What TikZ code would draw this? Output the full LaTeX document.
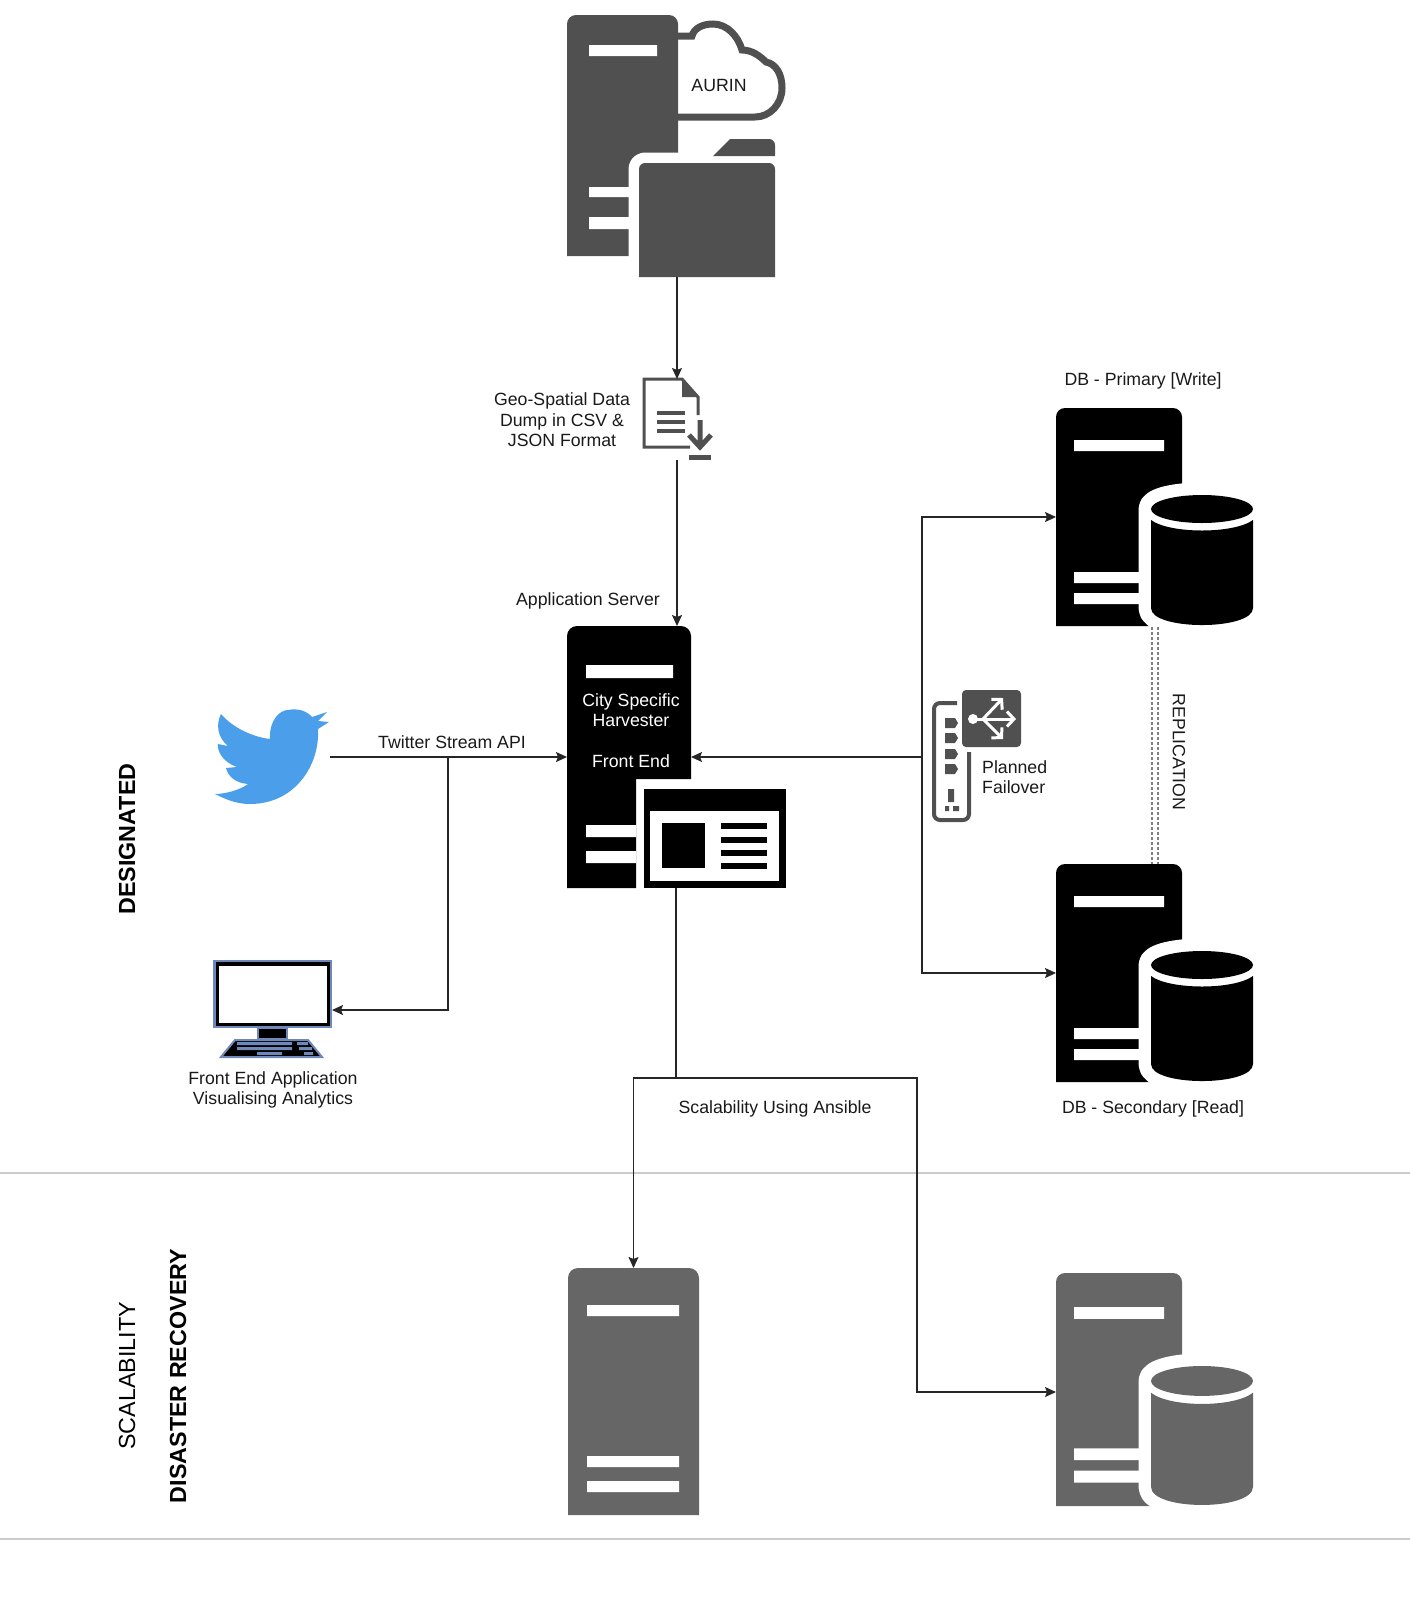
\documentclass[tikz,border=0pt]{standalone}
\usepackage{fontspec}
\setmainfont{Liberation Sans}
\usetikzlibrary{arrows.meta}
\definecolor{auringrey}{HTML}{505050}
\definecolor{drgrey}{HTML}{666666}
\definecolor{birdblue}{HTML}{4A9EEA}
\definecolor{screenblue}{HTML}{6F88BA}
\tikzset{
  iconbox/.style={inner sep=0, outer sep=0, minimum width=#1},
  txt/.style={font=\fontsize{17.7}{20.5}\selectfont, align=center, inner sep=0, text=black!90},
  side/.style={font=\fontsize{23.3}{26}\selectfont, inner sep=0, rotate=90},
  link/.style={line width=1.4pt, ->, black!85},
  rule/.style={line width=1.3pt, black!20}
}
\newcommand{\dbicon}[4]{
  \node (#1) at (1119,{#3+#4/2}) [iconbox=126, minimum height=#4] {};
  \begin{scope}[shift={(0,#3)}, yscale=#4/218]
    \fill[#2] (1056,218) [rounded corners=9] -- (1056,0) -- (1182,0) [sharp corners] -- (1182,218) -- cycle;
    \fill[white] (1074,32) rectangle (1164,43) (1074,164) rectangle (1150,175) (1074,185) rectangle (1150,196);
    \filldraw[white, line width=25, line join=round] (1151,101) .. controls (1151,82.3) and (1253,82.3) .. (1253,101) -- (1253,200) .. controls (1253,222.7) and (1151,222.7) .. (1151,200) -- cycle;
    \fill[#2] (1202,101) ellipse [x radius=51, y radius=14];
    \fill[#2] (1151,112) .. controls (1170,126) and (1234,126) .. (1253,112) -- (1253,200) .. controls (1253,222.7) and (1151,222.7) .. (1151,200) -- cycle;
  \end{scope}
}
\begin{document}
\begin{tikzpicture}
[x=1pt, y=-1pt, >={Stealth[length=11pt,width=10pt,inset=2pt]}]
\useasboundingbox (0,0) rectangle (1410,1604);

\draw[rule] (0,1173) -- (1410,1173);
\draw[rule] (0,1539) -- (1410,1539);

\node (aurinserver) at (622.5,135.5) [iconbox=111, minimum height=241] {};
\fill[auringrey] (aurinserver.south west) [rounded corners=9] -- (aurinserver.north west) -- (aurinserver.north east) [sharp corners] -- (aurinserver.south east) -- cycle;
\fill[white] (589,45) rectangle (657,56) (589,187) rectangle (635,197) (589,217) rectangle (635,229);
\draw[auringrey, line width=7] (678,36) -- (692,36) .. controls (694,28) and (703,24) .. (713,24) .. controls (727,24) and (738,36) .. (742,50) .. controls (752,50) and (760,56) .. (766,62) .. controls (776,64) and (782,74) .. (782,88) .. controls (782,104) and (770,117) .. (755,117) -- (678,117);
\node (aurinlabel) at (719,85) [txt] {AURIN};
\node (aurinfolder) at (707,220) [iconbox=136, minimum height=114] {};
\filldraw[white, line width=21, line join=round] (639,277) [rounded corners=6] -- (639,163) -- (700,163) [sharp corners] -- (700,277) -- cycle;
\fill[auringrey] (aurinfolder.south west) [rounded corners=6] -- (aurinfolder.north west) -- (aurinfolder.north east) [sharp corners] -- (aurinfolder.south east) -- cycle;
\fill[auringrey] (713,156) -- (730,139) [rounded corners=6] -- (775,139) [sharp corners] -- (775,156) -- cycle;

\node (geodoc) at (677,419.5) [iconbox=68, minimum height=81] {};
\draw[auringrey, line width=3] (698,415) -- (698,397) -- (682,379) -- (644,379) -- (644,447) -- (690,447);
\fill[auringrey] (682,379) -- (699,397) -- (682,397) -- cycle;
\draw[auringrey, line width=3.2] (657,413) -- (685,413) (657,422) -- (685,422) (657,431) -- (685,431);
\draw[auringrey, line width=5] (700,420) -- (700,447) (689,435) -- (700,447) -- (711,435);
\fill[auringrey] (689,455) rectangle (711,460);
\node (geolabel) at (562,420) [txt] {Geo-Spatial Data\\Dump in CSV \&\\JSON Format};

\node (appserver) at (629,757) [iconbox=124, minimum height=262] {};
\fill[black] (appserver.south west) [rounded corners=10] -- (appserver.north west) -- (appserver.north east) [sharp corners] -- (691,779) -- (636,779) -- (636,888) -- cycle;
\fill[white] (586,665) rectangle (673,678) (586,825) rectangle (636,837) (586,851) rectangle (636,863);
\node (appserverlabel) at (631,730.5) [txt, text=white] {City Specific\\Harvester\\[20.5pt]Front End};
\node (applabel) at (588,601) [txt] {Application Server};
\node (appwindow) at (715,838.5) [iconbox=142, minimum height=99, fill=black] {};
\fill[white] (650,811) rectangle (779,881);
\fill[black] (662,823) rectangle (705,868);
\foreach \liney in {823,837,850,863}
  \fill[black] (721,\liney) rectangle (767,\liney+6);

\node (twitter) at (272.5,757) [iconbox=115, minimum height=94] {};
\fill[birdblue] (221,714) .. controls (233,728) and (253,737) .. (270,739) .. controls (269,720) and (280,710) .. (288,710) .. controls (298,708) and (307,711) .. (312,717) -- (327,712) -- (318,721) -- (329,722) -- (318,729) .. controls (320,765) and (295,804) .. (250,804) .. controls (236,804) and (225,799) .. (215,794) .. controls (225,794) and (240,790) .. (248,784) .. controls (235,783) and (228,776) .. (226,768) -- (237,767) .. controls (222,762) and (217,750) .. (218,744) -- (228,746) .. controls (217,737) and (216,724) .. (221,714) -- cycle;
\coordinate (twsplit) at (448,757);
\node (twlabel) at (452,742) [txt] {Twitter Stream API};

\node (computer) at (272.5,1010) [iconbox=119, minimum height=100] {};
\fill[screenblue] (213,960) rectangle (332,1028);
\fill[black] (215.5,962) rectangle (329.5,1026);
\fill[white] (218.5,966) rectangle (326.5,1023);
\filldraw[black, draw=screenblue, line width=1.5] (258,1028) rectangle (287,1039);
\filldraw[black, draw=screenblue, line width=2] (221,1057) -- (322,1057) -- (308,1040) -- (235,1040) -- cycle;
\fill[screenblue] (237,1042) rectangle (292,1045) (237,1047) rectangle (292,1050) (257,1052) rectangle (282,1055) (297,1042) rectangle (308,1045) (299,1047) rectangle (312,1050) (304,1052) rectangle (313,1055);
\node (computerlabel) at (273,1090) [txt] {Front End Application\\Visualising Analytics};

\dbicon{primary}{black}{408}{218}
\dbicon{secondary}{black}{864}{218}
\dbicon{drdb}{drgrey}{1273}{233}
\node (primarylabel) at (1143,381) [txt] {DB - Primary [Write]};
\node (secondarylabel) at (1153,1109) [txt] {DB - Secondary [Read]};

\node (drserver) at (633.5,1391.5) [iconbox=131, minimum height=247] {};
\fill[drgrey] (drserver.south west) [rounded corners=10] -- (drserver.north west) -- (drserver.north east) [sharp corners] -- (drserver.south east) -- cycle;
\fill[white] (587,1305) rectangle (679,1316) (587,1456) rectangle (679,1467) (587,1481) rectangle (679,1492);

\node (failover) at (991.5,718.5) [iconbox=59, minimum height=57] {};
\fill[auringrey, rounded corners=4] (failover.south west) rectangle (failover.north east);
\fill[white] (973,719) circle (5);
\draw[white, line width=3, -{Straight Barb[length=7pt,width=15pt]}] (975,719) -- (1016,719);
\draw[white, line width=3, -{Straight Barb[length=7pt,width=15pt]}] (983,719) -- (1003,698);
\draw[white, line width=3, -{Straight Barb[length=7pt,width=15pt]}] (983,719) -- (1003,739);
\draw[auringrey, line width=4, rounded corners=6] (957,703) -- (934,703) -- (934,820) -- (969,820) -- (969,752);
\foreach \porty in {718,733,749,764}
  \fill[auringrey] (945,\porty) -- (955,\porty) -- (958,\porty+5) -- (955,\porty+10) -- (945,\porty+10) -- cycle;
\fill[auringrey] (948,789) rectangle (954,802) (945,806) rectangle (949,811) (953,806) rectangle (959,811);
\node (failoverlabel) at (982,777) [txt, anchor=west, align=left] {Planned\\Failover};
\coordinate (failsplit) at (922,757);

\coordinate (repltop) at (1155,627);
\coordinate (replbot) at (1155,864);
\draw[black!50, line width=2, dash pattern=on 3pt off 2pt, double=white, double distance=3.5] (repltop) -- (replbot);
\node (repllabel) at (1179,752) [txt, rotate=-90] {REPLICATION};

\coordinate (scalesplit) at (676,1078);
\coordinate (scaleright) at (917,1078);
\node (scalelabel) at (775,1109) [txt] {Scalability Using Ansible};

\node (designated) at (127,839) [side, font=\fontsize{23.3}{26}\selectfont\bfseries] {DESIGNATED};
\node (scalability) at (127,1376) [side] {SCALABILITY};
\node (recovery) at (178,1376) [side, font=\fontsize{23.3}{26}\selectfont\bfseries] {DISASTER RECOVERY};

\draw[link] (aurinfolder.south -| geodoc.north) -- (geodoc.north);
\draw[link] (geodoc.south) -- (appserver.north -| geodoc.south);
\draw[link] (twitter.east) -- (appserver.west);
\draw[link] (twsplit) |- (computer.east);
\draw[link] (failsplit) -- (appserver.east);
\draw[link] (failsplit) |- (primary.west);
\draw[link] (failsplit) |- (secondary.west);
\draw[black!85, line width=2.5] (appwindow.south -| scalesplit) -- (scalesplit);
\draw[link] (scalesplit) -| (drserver.north);
\draw[link] (scalesplit) -- (scaleright) |- ([yshift=-2.5pt]drdb.west);
\end{tikzpicture}
\end{document}
